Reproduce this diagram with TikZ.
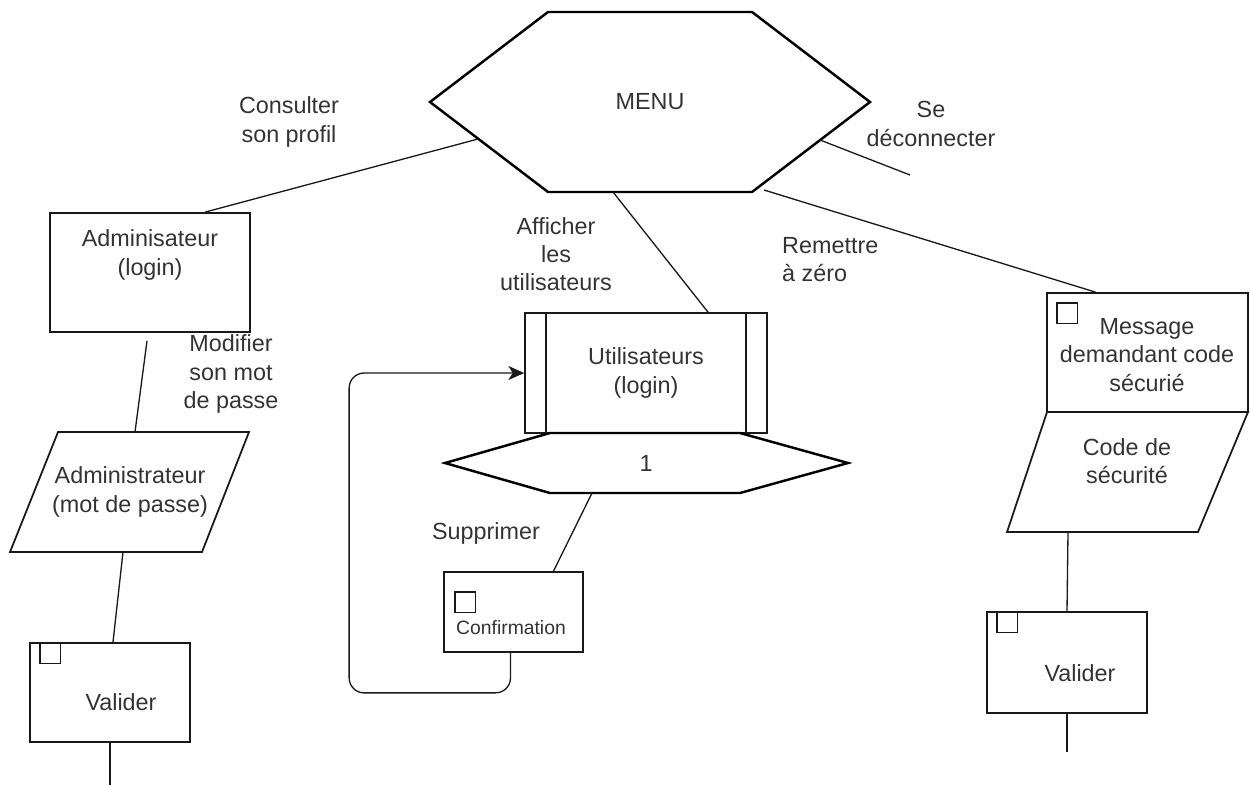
\documentclass[tikz,border=0pt]{standalone}
\usepackage{fontspec}
\setmainfont{Liberation Sans}
\usetikzlibrary{shapes,arrows,arrows.meta,positioning,calc}
\definecolor{textgray}{RGB}{51,51,51}
\definecolor{linegray}{RGB}{25,25,25}

\begin{document}
\begin{tikzpicture}[x=0.02cm, y=-0.02cm,
		every node/.style={font=\fontsize{13.3}{16}\selectfont, text=textgray, align=center},
		box/.style={draw=linegray, line width=1pt, rectangle, inner sep=0pt},
		hexa/.style={draw=black, line width=1.4pt, line join=miter},
		link/.style={draw=linegray, line width=0.75pt},
		tickbox/.style={draw=linegray, line width=0.8pt, rectangle, minimum size=0.41cm, inner sep=0pt, anchor=north west}]
				\useasboundingbox (0,0) rectangle (1250,785);
				
				% Menu
				\node (menu) at (650,102) {MENU};
				\draw[hexa] ($(menu)+(-220,0)$) -- ($(menu)+(-102,-90)$) -- ($(menu)+(102,-90)$) -- ($(menu)+(220,0)$) -- ($(menu)+(102,90)$) -- ($(menu)+(-102,90)$) -- cycle;
				
				% Admin branch
				\node[box, minimum width=4cm, minimum height=2.38cm] (admin) at (150,272.5) {};
				\node (admin-text) at (150,255) {Adminisateur\\(login)};
				\node (adminmdp) at (130,492) {Administrateur\\(mot de passe)};
				\draw[box] ($(adminmdp)+(-72,-60)$) -- ($(adminmdp)+(119,-60)$) -- ($(adminmdp)+(72,60)$) -- ($(adminmdp)+(-120,60)$) -- cycle;
				\node[box, minimum width=3.2cm, minimum height=1.98cm] (valid1) at (110,692.5) {};
				\node[tickbox] (valid1-tick) at ($(valid1.north west)+(10,0)$) {};
				\node (valid1-text) at (121,702) {Valider};
				\coordinate (end1) at (110,785);
				
				% Users branch
				\node[box, minimum width=4.84cm, minimum height=2.4cm] (users) at (646,373) {Utilisateurs\\(login)};
				\draw[box] ($(users.north west)+(22,0)$) -- ($(users.south west)+(22,0)$);
				\draw[box] ($(users.north east)+(-22,0)$) -- ($(users.south east)+(-22,0)$);
				\node (one) at (646,463) {1};
				\draw[hexa] ($(one)+(-201,0)$) -- ($(one)+(-96,-30)$) -- ($(one)+(94,-30)$) -- ($(one)+(202,0)$) -- ($(one)+(94,30)$) -- ($(one)+(-96,30)$) -- cycle;
				\node[box, minimum width=2.78cm, minimum height=1.6cm] (confirm) at (513.5,612) {};
				\node[tickbox] (confirm-tick) at ($(confirm.north west)+(11,20)$) {};
				\node[font=\fontsize{11}{13}\selectfont] (confirm-text) at (511,628) {Confirmation};
				
				% Reset branch
				\node[box, minimum width=4.02cm, minimum height=2.38cm] (message) at (1147.5,352.5) {};
				\node[tickbox] (message-tick) at ($(message.north west)+(10,10)$) {};
				\node (message-text) at (1147,355) {Message\\demandant code\\sécurié};
				\node (code) at (1127,461) {Code de\\sécurité};
				\draw[box] ($(code)+(-80,-49)$) -- ($(code)+(121,-49)$) -- ($(code)+(71,71)$) -- ($(code)+(-120,71)$) -- cycle;
				\node[box, minimum width=3.2cm, minimum height=2.02cm] (valid2) at (1067,662.5) {};
				\node[tickbox] (valid2-tick) at ($(valid2.north west)+(10,0)$) {};
				\node (valid2-text) at (1080,673) {Valider};
				\coordinate (end2) at (1067,752);
				\coordinate (deco) at (910,175);
				
				% Labels
				\node (lbl-profil) at (289,122) {Consulter\\son profil};
				\node (lbl-mdp) at (231,374) {Modifier\\son mot\\de passe};
				\node (lbl-afficher) at (556,254) {Afficher\\les\\utilisateurs};
				\node (lbl-supprimer) at (486,533) {Supprimer};
				\node (lbl-deco) at (931,124) {Se\\déconnecter};
				\node[anchor=west, align=left] (lbl-reset) at (776,260) {Remettre\\à zéro};
				
				% Connections
				\draw[link] ($(menu)+(-172,37)$) -- ($(admin.north)+(55,0)$);
				\draw[link] ($(admin.south)+(-3,8)$) -- ($(adminmdp)+(5,-60)$);
				\draw[link] ($(adminmdp)+(-7,60)$) -- ($(valid1.north)+(3,0)$);
				\draw[link] (valid1.south) -- (end1);
				\draw[link] ($(menu)+(-37,90)$) -- ($(users.north)+(62,0)$);
				\draw[link] ($(one)+(-54,30)$) -- ($(confirm.north)+(40,0)$);
				\draw[link, rounded corners=0.3cm, -{Stealth[length=9pt, width=8pt, inset=2.5pt]}] ($(confirm.south)+(-3,0)$) -- ++(0,40) -| ($(users.west)+(-175,0)$) -- (users.west);
				\draw[link] ($(menu)+(170,38)$) -- (deco);
				\draw[link] ($(menu)+(114,88)$) -- ($(message.north)+(-52,0)$);
				\draw[link] ($(code)+(-59,71)$) -- (valid2.north);
				\draw[link] (valid2.south) -- (end2);
			\end{tikzpicture}
\end{document}
